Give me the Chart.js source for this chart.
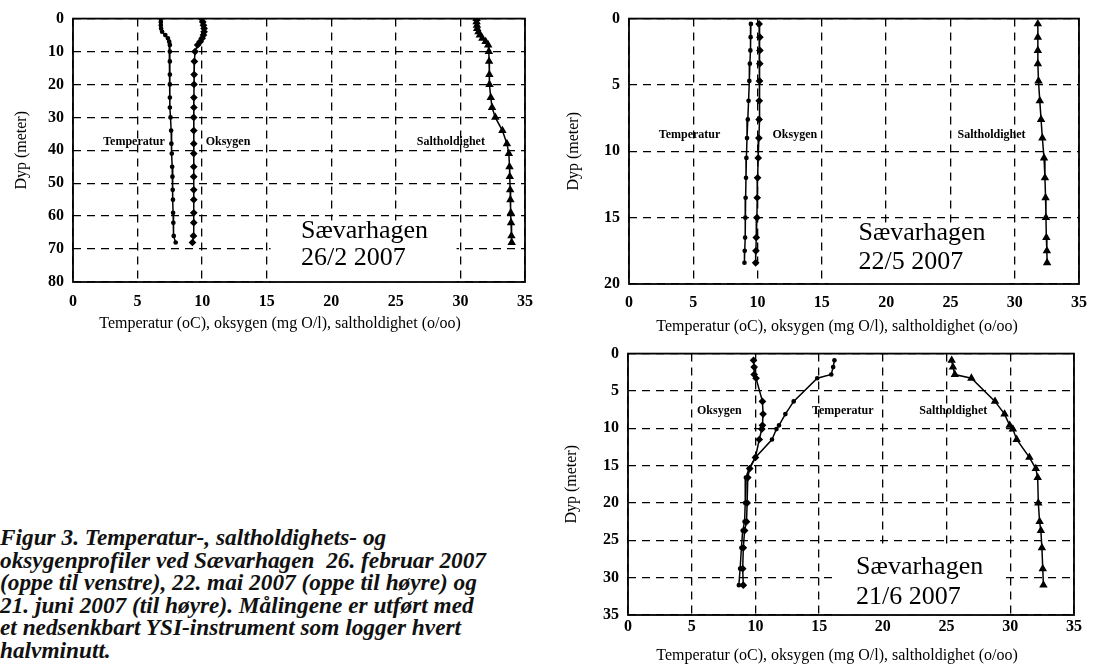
<!DOCTYPE html>
<html lang="no">
<head>
<meta charset="utf-8">
<title>Sævarhagen – profiler 2007</title>
<script src="https://cdn.jsdelivr.net/npm/chart.js@4.4.1/dist/chart.umd.min.js"></script>
<style>
    html, body { margin: 0; padding: 0; background: #fff; }
    body { width: 1096px; height: 668px; position: relative; overflow: hidden; }
    canvas { position: absolute; }
    #feb { left: 0; top: 0; }
    #mai { left: 560px; top: 0; }
    #jun { left: 560px; top: 335px; }
    .caption {
        position: absolute; left: 0; top: 526px;
        font: italic bold 23.3px "Liberation Serif", "Times New Roman", serif;
        line-height: 22.6px; white-space: pre; color: #111;
    }
</style>
</head>
<body>
<canvas id="feb" width="560" height="340"></canvas>
<canvas id="mai" width="536" height="340"></canvas>
<canvas id="jun" width="536" height="333"></canvas>
<div class="caption"><b>Figur 3.</b> Temperatur-, saltholdighets- og
oksygenprofiler ved Sævarhagen  26. februar 2007
(oppe til venstre), 22. mai 2007 (oppe til høyre) og
21. juni 2007 (til høyre). Målingene er utført med
et nedsenkbart YSI-instrument som logger hvert
halvminutt.</div>

<script>
// 26/2 2007
const depthFeb = [0, 1, 2, 3, 4, 5, 6, 7, 8, 10, 13, 17, 20, 24, 27, 30, 34, 38, 41, 45, 48, 52, 55, 59, 62, 66, 68];
const tempFeb = [6.8, 6.8, 6.8, 6.82, 6.9, 7.15, 7.35, 7.45, 7.5, 7.5, 7.5, 7.5, 7.5, 7.5, 7.5, 7.55, 7.6, 7.62, 7.65, 7.68, 7.7, 7.72, 7.74, 7.75, 7.77, 7.8, 7.95];
const oxyFeb = [9.95, 10.05, 10.1, 10.15, 10.15, 10.1, 10.0, 9.85, 9.65, 9.45, 9.4, 9.38, 9.37, 9.36, 9.36, 9.35, 9.35, 9.35, 9.35, 9.35, 9.35, 9.35, 9.35, 9.35, 9.35, 9.33, 9.25];
const salFeb = [31.25, 31.25, 31.28, 31.3, 31.4, 31.5, 31.7, 31.95, 32.15, 32.2, 32.22, 32.24, 32.25, 32.35, 32.45, 32.7, 33.25, 33.6, 33.75, 33.8, 33.82, 33.85, 33.87, 33.9, 33.92, 33.95, 33.97];

// 22/5 2007
const depthMai = [0.4, 1.4, 2.4, 3.4, 4.7, 6.2, 7.6, 9.0, 10.5, 12.0, 13.5, 15.0, 16.5, 17.5, 18.4];
const tempMai = [9.48, 9.46, 9.44, 9.4, 9.36, 9.3, 9.24, 9.18, 9.13, 9.1, 9.07, 9.05, 9.03, 9.0, 8.98];
const oxyMai = [10.12, 10.18, 10.18, 10.17, 10.15, 10.13, 10.12, 10.1, 10.05, 10.0, 9.97, 9.95, 9.9, 9.87, 9.85];
const salMai = [31.8, 31.8, 31.8, 31.8, 31.85, 31.95, 32.05, 32.15, 32.28, 32.35, 32.4, 32.43, 32.46, 32.5, 32.52];

// 21/6 2007
const depthJun = [0.9, 1.8, 2.8, 3.3, 6.4, 8.1, 9.6, 10.1, 11.5, 13.9, 15.4, 16.6, 20.0, 22.5, 23.7, 26.0, 28.8, 31.0];
const oxyJun = [9.85, 9.9, 9.9, 10.05, 10.55, 10.6, 10.55, 10.5, 10.3, 10.0, 9.55, 9.4, 9.35, 9.3, 9.15, 9.05, 9.0, 9.05];
const tempJun = [16.2, 16.1, 15.95, 14.85, 13.0, 12.35, 11.85, 11.65, 11.3, 10.0, 9.5, 9.25, 9.2, 9.15, 9.0, 8.9, 8.8, 8.7];
const salJun = [25.4, 25.5, 25.65, 26.95, 28.8, 29.55, 29.95, 30.2, 30.5, 31.5, 32.0, 32.15, 32.2, 32.3, 32.4, 32.48, 32.55, 32.6];

const xTicks = [0, 5, 10, 15, 20, 25, 30, 35];
const xTitle = 'Temperatur (oC), oksygen (mg O/l), saltholdighet (o/oo)';
const yTitle = 'Dyp (meter)';

const SERIF = '"Liberation Serif", "Times New Roman", serif';
Chart.defaults.font.family = SERIF;
Chart.defaults.color = '#000';

// frame, white name box, series names and x title
function notesPlugin(n) {
    return {
        id: 'notes',
        beforeDatasetsDraw(chart) {
            const { ctx, scales: { x, y } } = chart;
            const l = x.getPixelForValue(n.box[0]), r = x.getPixelForValue(n.box[1]);
            const t = y.getPixelForValue(n.box[2]), b = y.getPixelForValue(n.box[3]);
            ctx.save();
            ctx.fillStyle = '#fff';
            ctx.fillRect(l, t, r - l, b - t);
            ctx.restore();
        },
        afterDraw(chart) {
            const { ctx, chartArea: a, scales: { x, y } } = chart;
            ctx.save();
            ctx.strokeStyle = '#000';
            ctx.lineWidth = 1.8;
            ctx.strokeRect(a.left, a.top, a.right - a.left, a.bottom - a.top);

            ctx.fillStyle = '#000';
            ctx.textBaseline = 'middle';
            ctx.textAlign = 'center';
            ctx.font = 'bold 12px ' + SERIF;
            n.names.forEach(nm => {
                ctx.fillText(nm[0], x.getPixelForValue(nm[1]), y.getPixelForValue(nm[2]));
            });

            ctx.textAlign = 'left';
            ctx.font = '26px ' + SERIF;
            n.place.forEach(p => {
                ctx.fillText(p[0], x.getPixelForValue(p[1]), y.getPixelForValue(p[2]));
            });

            ctx.textAlign = 'center';
            ctx.font = '16px ' + SERIF;
            ctx.fillText(xTitle, (a.left + a.right) / 2 + n.titleDx, n.titleY);
            ctx.restore();
        }
    };
}

function profileChart(id, series, geo, notes) {
    const grid = { color: '#000', lineWidth: 1.3, drawTicks: false };
    const border = { display: false, dash: [8, 6] };
    const tickFont = { size: 16, weight: 'bold' };

    return new Chart(document.getElementById(id), {
        type: 'scatter',
        data: {
            datasets: series.map(s => ({
                label: s.name,
                data: s.depth.map((d, i) => ({ x: s.values[i], y: d })),
                showLine: true,
                tension: 0,
                borderColor: '#000',
                backgroundColor: '#000',
                borderWidth: 1.5,
                pointStyle: s.marker,
                pointRadius: s.radius,
                pointHoverRadius: s.radius
            }))
        },
        options: {
            responsive: false,
            animation: false,
            events: [],
            layout: { padding: geo.padding },
            plugins: { legend: { display: false }, tooltip: { enabled: false } },
            scales: {
                x: {
                    type: 'linear', min: 0, max: 35,
                    afterBuildTicks: s => { s.ticks = xTicks.map(v => ({ value: v })); },
                    ticks: { padding: geo.xTickPad, font: tickFont, maxRotation: 0 },
                    grid, border,
                    afterFit: s => { s.height = geo.xAxisHeight; }
                },
                y: {
                    type: 'linear', reverse: true, min: 0, max: geo.yMax,
                    ticks: { stepSize: geo.yStep, padding: 9, font: tickFont },
                    grid, border,
                    title: { display: true, text: yTitle, font: { size: 16 }, padding: { top: geo.yTitlePad, bottom: 0 } },
                    afterFit: s => { s.width = geo.yAxisWidth; }
                }
            }
        },
        plugins: [notesPlugin(notes)]
    });
}

profileChart('feb', [
    { name: 'Temperatur', depth: depthFeb, values: tempFeb, marker: 'circle', radius: 1.6 },
    { name: 'Oksygen', depth: depthFeb, values: oxyFeb, marker: 'rectRot', radius: 2.8 },
    { name: 'Saltholdighet', depth: depthFeb, values: salFeb, marker: 'triangle', radius: 3.4 }
], {
    padding: { top: 17, right: 35, bottom: 0, left: 0 },
    xAxisHeight: 58, xTickPad: 10, yAxisWidth: 73, yTitlePad: 12,
    yMax: 80, yStep: 10
}, {
    box: [15.3, 29.7, 61.3, 80],
    names: [['Temperatur', 4.72, 37.3], ['Oksygen', 12.0, 37.3], ['Saltholdighet', 29.26, 37.3]],
    place: [['Sævarhagen', 17.65, 64.5], ['26/2 2007', 17.65, 72.7]],
    titleDx: -19, titleY: 324
});

profileChart('mai', [
    { name: 'Temperatur', depth: depthMai, values: tempMai, marker: 'circle', radius: 1.6 },
    { name: 'Oksygen', depth: depthMai, values: oxyMai, marker: 'rectRot', radius: 2.8 },
    { name: 'Saltholdighet', depth: depthMai, values: salMai, marker: 'triangle', radius: 3.4 }
], {
    padding: { top: 16, right: 14, bottom: 0, left: 0 },
    xAxisHeight: 56, xTickPad: 9, yAxisWidth: 69, yTitlePad: 4,
    yMax: 20, yStep: 5
}, {
    box: [15.5, 29.6, 15.4, 20],
    names: [['Temperatur', 4.71, 8.73], ['Oksygen', 12.9, 8.73], ['Saltholdighet', 28.2, 8.73]],
    place: [['Sævarhagen', 17.85, 16.2], ['22/5 2007', 17.85, 18.36]],
    titleDx: -17, titleY: 327
});

profileChart('jun', [
    { name: 'Oksygen', depth: depthJun, values: oxyJun, marker: 'rectRot', radius: 2.8 },
    { name: 'Temperatur', depth: depthJun, values: tempJun, marker: 'circle', radius: 1.6 },
    { name: 'Saltholdighet', depth: depthJun, values: salJun, marker: 'triangle', radius: 3.4 }
], {
    padding: { top: 13, right: 22, bottom: 0, left: 0 },
    xAxisHeight: 53, xTickPad: 2, yAxisWidth: 68, yTitlePad: 2,
    yMax: 35, yStep: 5
}, {
    box: [16.3, 29.6, 25.8, 35],
    names: [['Oksygen', 7.17, 7.73], ['Temperatur', 16.86, 7.73], ['Saltholdighet', 25.53, 7.73]],
    place: [['Sævarhagen', 17.9, 28.6], ['21/6 2007', 17.9, 32.6]],
    titleDx: -14, titleY: 321
});
</script>
</body>
</html>
